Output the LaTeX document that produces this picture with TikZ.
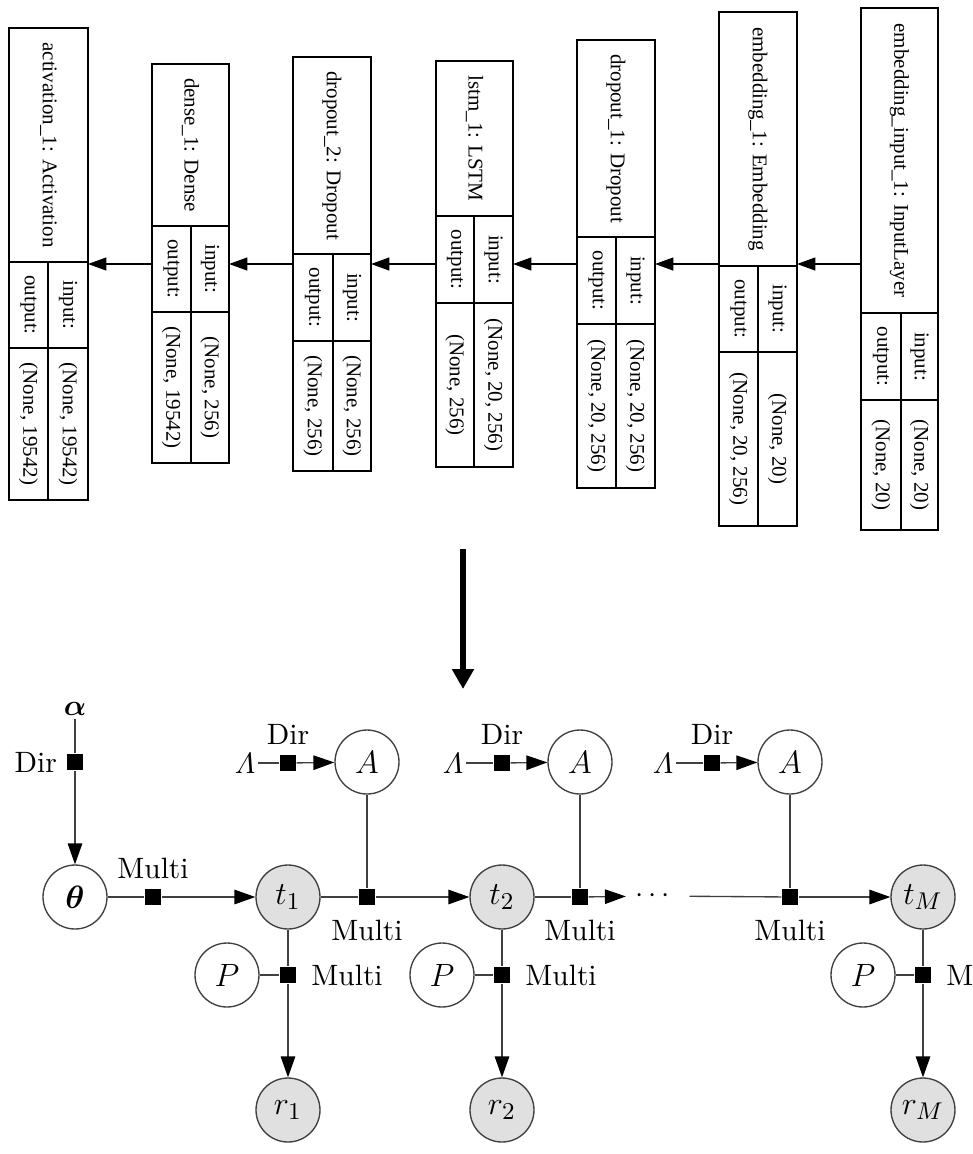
\documentclass[tikz,border=0pt]{standalone}
\usepackage{amsmath}
\usepackage{amssymb}
\usepackage{fontspec}
\newfontfamily\kerasfont{Liberation Serif}
\usetikzlibrary{arrows.meta}

\begin{document}
\begin{tikzpicture}
  [x=0.372pt,y=-0.372pt,
   layer text/.style={font=\kerasfont\fontsize{7.8}{9}\selectfont,rotate=-90,inner sep=0pt},
   keras arrow/.style={-{Triangle[length=6.8pt,width=4.8pt]},line width=0.5pt},
   big arrow/.style={-{Triangle[length=7.4pt,width=7.8pt]},line width=2.6pt},
   var/.style={circle,draw=black!75,line width=0.5pt,minimum size=23.8pt,inner sep=0pt,font=\fontsize{12.5}{14}\selectfont},
   obs/.style={var,fill=black!12},
   fac/.style={rectangle,fill=black,minimum size=6pt,inner sep=0pt,label distance=1.2pt},
   txt/.style={font=\fontsize{10.95}{13}\selectfont},
   every label/.style={txt},
   link/.style={draw=black!75,line width=0.5pt},
   arr/.style={link,-{Triangle[length=7.8pt,width=5.4pt,color=black]}}]
\useasboundingbox (0,0) rectangle (972,1154);
\clip (0,0) rectangle (972,1154);

% keras model
\foreach \nm/\xa/\xd/\xb/\ya/\yb/\yc/\yd/\ttl/\vin/\vout in {
  act/9/48/88/28/262/348/500/{activation\_1: Activation}/{(None, 19542)}/{(None, 19542)},
  dense/152/191/229/64/226/312/463/{dense\_1: Dense}/{(None, 256)}/{(None, 19542)},
  drop2/293/333/371/57/254/341/471/{dropout\_2: Dropout}/{(None, 256)}/{(None, 256)},
  lstm/436/474/513/61/216/303/467/{lstm\_1: LSTM}/{(None, 20, 256)}/{(None, 256)},
  drop1/577/616/655/40/237/324/488/{dropout\_1: Dropout}/{(None, 20, 256)}/{(None, 20, 256)},
  emb/719/758/797/12/266/352/526/{embedding\_1: Embedding}/{(None, 20)}/{(None, 20, 256)},
  inp/861/901/938/8/313/400/530/{embedding\_input\_1: InputLayer}/{(None, 20)}/{(None, 20)}}
{
  \draw[line width=0.5pt] (\xa,\ya) rectangle (\xb,\yd);
  \draw[line width=0.5pt] (\xa,\yb) -- (\xb,\yb) (\xa,\yc) -- (\xb,\yc) (\xd,\yb) -- (\xd,\yd);
  \node[layer text] (\nm-title) at ({(\xa+\xb)/2},{(\ya+\yb)/2}) {\ttl};
  \node[layer text] (\nm-inlabel) at ({(\xd+\xb)/2},{(\yb+\yc)/2}) {input:};
  \node[layer text] (\nm-outlabel) at ({(\xa+\xd)/2},{(\yb+\yc)/2}) {output:};
  \node[layer text] (\nm-inval) at ({(\xd+\xb)/2},{(\yc+\yd)/2}) {\vin};
  \node[layer text] (\nm-outval) at ({(\xa+\xd)/2},{(\yc+\yd)/2}) {\vout};
  \coordinate (\nm-in) at (\xb,264);
  \coordinate (\nm-out) at (\xa,264);
}
\foreach \a/\b in {inp/emb,emb/drop1,drop1/lstm,lstm/drop2,drop2/dense,dense/act}
  \draw[keras arrow] (\a-out) -- (\b-in);

\coordinate (down-start) at (463,549);
\coordinate (down-end) at (463,689);
\draw[big arrow] (down-start) -- (down-end);

% factor graph
\node[txt,inner sep=1pt] (alpha) at (75,709) {$\boldsymbol{\alpha}$};
\node[fac,label=left:Dir] (f-alpha) at (75,762) {};
\node[var] (theta) at (75,897) {$\boldsymbol{\theta}$};
\node[fac,label=above:Multi] (f-theta) at (153,897) {};

\node[obs] (t1) at (288,897) {$t_1$};
\node[obs] (t2) at (502,897) {$t_2$};
\node[obs] (tM) at (923,897) {$t_M$};
\node[txt] (dots) at (655,896) {$\cdots$};

\node[var] (A1) at (367,762) {$A$};
\node[var] (A2) at (580,762) {$A$};
\node[var] (A3) at (790,762) {$A$};
\node[txt,inner sep=1pt] (L1) at (245,763) {$\varLambda$};
\node[txt,inner sep=1pt] (L2) at (453,763) {$\varLambda$};
\node[txt,inner sep=1pt] (L3) at (663,763) {$\varLambda$};
\node[fac,label=above:Dir] (fL1) at (288,763) {};
\node[fac,label=above:Dir] (fL2) at (502,763) {};
\node[fac,label=above:Dir] (fL3) at (712,763) {};

\node[fac,label={[label distance=2pt]below:Multi}] (c1) at (367,897) {};
\node[fac,label={[label distance=2pt]below:Multi}] (c2) at (580,897) {};
\node[fac,label={[label distance=2pt]below:Multi}] (c3) at (790,897) {};

\node[var] (P1) at (227,975) {$P$};
\node[var] (P2) at (442,975) {$P$};
\node[var] (P3) at (863,975) {$P$};
\node[fac,label={[label distance=2pt]right:Multi}] (g1) at (288,975) {};
\node[fac,label={[label distance=2pt]right:Multi}] (g2) at (502,975) {};
\node[fac,label={[label distance=2pt]right:Multi}] (g3) at (923,975) {};

\node[obs] (r1) at (288,1110) {$r_1$};
\node[obs] (r2) at (502,1110) {$r_2$};
\node[obs] (rM) at (923,1110) {$r_M$};

\draw[link] (alpha) -- (f-alpha);
\draw[arr] (f-alpha) -- (theta);
\draw[link] (theta) -- (f-theta);
\draw[arr] (f-theta) -- (t1);

\draw[link] (t1) -- (c1);
\draw[arr] (c1) -- (t2);
\draw[link] (t2) -- (c2);
\draw[arr] (c2) -- (dots);
\draw[link,shorten <=2pt] (dots) -- (c3);
\draw[arr] (c3) -- (tM);

\foreach \i in {1,2,3} {
  \draw[link] (L\i) -- (fL\i);
  \draw[arr] (fL\i) -- (A\i);
  \draw[link] (A\i) -- (c\i);
  \draw[link] (P\i) -- (g\i);
}
\foreach \t/\g/\r in {t1/g1/r1,t2/g2/r2,tM/g3/rM} {
  \draw[link] (\t) -- (\g);
  \draw[arr] (\g) -- (\r);
}
\end{tikzpicture}
\end{document}
